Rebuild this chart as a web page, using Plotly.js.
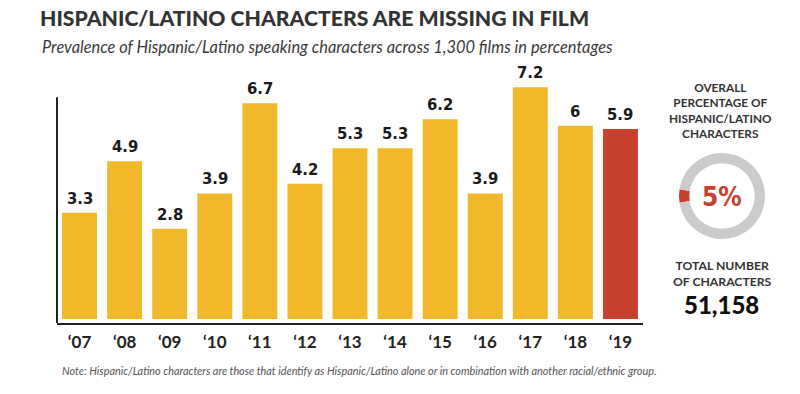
<!DOCTYPE html>
<html>
<head>
<meta charset="utf-8">
<script src="https://cdn.plot.ly/plotly-3.0.1.min.js"></script>
<style>
  html, body { margin: 0; padding: 0; background: #fff; }
  #chart { width: 800px; height: 394px; }
</style>
</head>
<body>
<div id="chart"></div>
<script>
// ---- data ----
const tickLabels = ['\u201807','\u201808','\u201809','\u201810','\u201811','\u201812','\u201813','\u201814','\u201815','\u201816','\u201817','\u201818','\u201819'];
const values = [3.3, 4.9, 2.8, 3.9, 6.7, 4.2, 5.3, 5.3, 6.2, 3.9, 7.2, 6, 5.9];
const valueLabels = ['3.3','4.9','2.8','3.9','6.7','4.2','5.3','5.3','6.2','3.9','7.2','6','5.9'];
const highlightYear = '\u201819';
const overallLabels = ['Hispanic/Latino', 'Other'];
const overallValues = [5, 95];
const overallText = '5%';
const totalCharacters = '51,158';

// ---- styles ----
const YELLOW = '#f2b82c';
const RED = '#c8402e';
const GRAY = '#cbcbcb';
const NUMFONT = 'Liberation Sans Narrow, DejaVu Sans Condensed, Roboto, sans-serif';
const W = 800, H = 394;
const plotL = 57, plotR = 643, plotT = 60, plotB = 323;
const pxPerUnit = 32.2;
const yMin = -(plotB - 319) / pxPerUnit;
const yMax = yMin + (plotB - plotT) / pxPerUnit;

const barColors = tickLabels.map(t => t === highlightYear ? RED : YELLOW);

const barTrace = {
  type: 'bar',
  x: tickLabels,
  y: values,
  marker: { color: barColors, line: { width: 0 } },
  hoverinfo: 'x+y',
  showlegend: false
};

const cx = 722, cy = 196, rad = 43;
const pieTrace = {
  type: 'pie',
  labels: overallLabels,
  values: overallValues,
  hole: 0.76,
  sort: false,
  direction: 'clockwise',
  rotation: 261,
  marker: { colors: [RED, GRAY], line: { width: 0 } },
  textinfo: 'none',
  hoverinfo: 'label+percent',
  showlegend: false,
  domain: { x: [(cx - rad) / W, (cx + rad) / W], y: [1 - (cy + rad) / H, 1 - (cy - rad) / H] }
};

const annotations = values.map((v, i) => ({
  x: i, y: v, xref: 'x', yref: 'y',
  text: valueLabels[i], showarrow: false,
  yanchor: 'bottom', yshift: 3,
  font: { family: NUMFONT, size: 16.5, color: '#1a1a1a', weight: 700 }
}));

annotations.push({
  xref: 'paper', yref: 'paper', x: 40 / W, y: 1 - 46 / H, xanchor: 'left', yanchor: 'middle',
  text: 'Prevalence of Hispanic/Latino speaking characters across 1,300 films in percentages',
  showarrow: false,
  font: { family: 'Lato', size: 16.4, color: '#3a3a3a', style: 'italic' }
});
annotations.push({
  xref: 'paper', yref: 'paper', x: 60 / W, y: 1 - 370 / H, xanchor: 'left', yanchor: 'middle',
  text: 'Note: Hispanic/Latino characters are those that identify as Hispanic/Latino alone or in combination with another racial/ethnic group.',
  showarrow: false,
  font: { family: 'Lato', size: 10.85, color: '#555', style: 'italic' }
});
annotations.push({
  xref: 'paper', yref: 'paper', x: 720 / W, y: 1 - 110 / H, xanchor: 'center', yanchor: 'middle',
  text: 'OVERALL<br>PERCENTAGE OF<br>HISPANIC/LATINO<br>CHARACTERS',
  showarrow: false, align: 'center',
  font: { family: 'Lato', size: 11.8, color: '#333', weight: 700 }
});
annotations.push({
  xref: 'paper', yref: 'paper', x: 722 / W, y: 1 - 197 / H, xanchor: 'center', yanchor: 'middle',
  text: overallText, showarrow: false,
  font: { family: NUMFONT, size: 26, color: RED, weight: 700 }
});
annotations.push({
  xref: 'paper', yref: 'paper', x: 722 / W, y: 1 - 273 / H, xanchor: 'center', yanchor: 'middle',
  text: 'TOTAL NUMBER<br>OF CHARACTERS',
  showarrow: false, align: 'center',
  font: { family: 'Lato', size: 12.2, color: '#333', weight: 700 }
});
annotations.push({
  xref: 'paper', yref: 'paper', x: 721 / W, y: 1 - 304 / H, xanchor: 'center', yanchor: 'middle',
  text: totalCharacters, showarrow: false,
  font: { family: 'Lato', size: 24, color: '#111', weight: 900 }
});

const layout = {
  width: W, height: H,
  margin: { l: 0, r: 0, t: 0, b: 0 },
  paper_bgcolor: '#fff', plot_bgcolor: '#fff',
  title: {
    text: 'HISPANIC/LATINO CHARACTERS ARE MISSING IN FILM',
    xref: 'container', yref: 'container',
    x: 40 / W, xanchor: 'left', y: 1 - 19 / H, yanchor: 'middle',
    font: { family: 'Lato', size: 21.2, color: '#333', weight: 900 }
  },
  bargap: 0.225,
  xaxis: {
    domain: [plotL / W, plotR / W],
    type: 'category',
    range: [-0.5, 12.5],
    showline: true, linecolor: '#222', linewidth: 2,
    ticks: '', showgrid: false, zeroline: false,
    ticklabelstandoff: 3,
    tickfont: { family: 'Lato', size: 17, color: '#222', weight: 700 },
    fixedrange: true
  },
  yaxis: {
    domain: [1 - plotB / H, 1 - plotT / H],
    range: [yMin, yMax],
    showline: false, showgrid: false, zeroline: false,
    showticklabels: false, ticks: '',
    fixedrange: true
  },
  shapes: [{
    type: 'line', xref: 'x domain', yref: 'y',
    x0: 0, x1: 0, y0: yMin, y1: 6.89,
    line: { color: '#222', width: 2 }
  }],
  annotations: annotations
};

Plotly.newPlot('chart', [barTrace, pieTrace], layout, { displayModeBar: false, staticPlot: true });
</script>
</body>
</html>
